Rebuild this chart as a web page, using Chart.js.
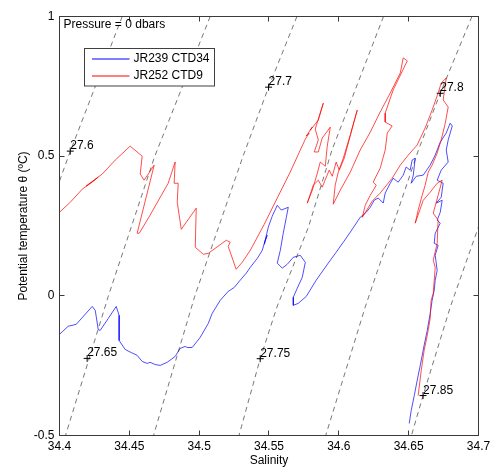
<!DOCTYPE html>
<html><head><meta charset="utf-8">
<script src="https://cdn.jsdelivr.net/npm/chart.js@4.4.1/dist/chart.umd.min.js"></script>
<style>html,body{margin:0;padding:0;background:#fff;}#c{display:block;}</style>
</head><body>
<canvas id="c" width="497" height="468"></canvas>
<script>
// ---- axis ticks ----
const xTicks = [34.4, 34.45, 34.5, 34.55, 34.6, 34.65, 34.7];
const xTickLabels = ['34.4', '34.45', '34.5', '34.55', '34.6', '34.65', '34.7'];
const yTicks = [-0.5, 0, 0.5, 1];
const yTickLabels = ['-0.5', '0', '0.5', '1'];

// ---- JR239 CTD34 (blue) ----
const blueS = [34.400,34.4062,34.4120,34.4234,34.4256,34.4277,34.4291,34.4349,34.4406,34.4427,
34.4427,34.4470,34.4513,34.4556,34.4592,34.4628,34.4649,34.4685,34.4721,34.4771,
34.4828,34.4864,34.4900,34.4914,34.4950,34.5007,34.5065,34.5093,34.5151,34.5208,
34.5251,34.5294,34.5337,34.5366,34.5416,34.5452,34.5473,34.5487,34.5466,34.5495,
34.5523,34.5559,34.5588,34.5638,34.5624,34.5602,34.5581,34.5559,34.5595,34.5631,
34.5674,34.5724,34.5760,34.5738,34.5702,34.5674,34.5674,34.5709,34.5767,34.5838,
34.5924,34.5981,34.6032,34.6082,34.6153,34.6196,34.6225,34.6253,34.6282,34.6318,
34.6332,34.6368,34.6389,34.6425,34.6461,34.6482,34.6511,34.6525,34.6547,34.6533,
34.6518,34.6554,34.6604,34.6654,34.6690,34.6726,34.6769,34.6797,34.6812,34.6783,
34.6769,34.6783,34.6733,34.6704,34.6747,34.6733,34.6697,34.6740,34.6726,34.6704,
34.6726,34.6690,34.6683,34.6711,34.6690,34.6704,34.6690,34.6683,34.6668,34.6654,
34.6633,34.6611,34.6583,34.6561,34.6540,34.6518,34.6504];
const blueT = [-0.138,-0.109,-0.102,-0.038,-0.052,-0.120,-0.124,-0.081,-0.038,-0.070,
-0.160,-0.192,-0.203,-0.213,-0.235,-0.242,-0.238,-0.246,-0.249,-0.238,
-0.217,-0.188,-0.181,-0.185,-0.185,-0.149,-0.099,-0.063,-0.016,0.016,
0.030,0.056,0.081,0.102,0.134,0.163,0.199,0.217,0.185,0.246,
0.285,0.324,0.307,0.317,0.281,0.224,0.163,0.117,0.099,0.113,
0.138,0.145,0.120,0.066,0.027,-0.005,-0.034,-0.027,-0.002,0.056,
0.117,0.156,0.192,0.228,0.281,0.299,0.317,0.342,0.350,0.332,
0.368,0.403,0.421,0.407,0.432,0.461,0.450,0.486,0.493,0.432,
0.403,0.428,0.432,0.468,0.504,0.550,0.583,0.618,0.608,0.558,
0.522,0.479,0.450,0.414,0.403,0.353,0.332,0.342,0.299,0.271,
0.260,0.224,0.188,0.181,0.145,0.091,0.056,0.020,-0.016,-0.063,
-0.124,-0.177,-0.249,-0.303,-0.357,-0.411,-0.457];

// ---- JR252 CTD9 (red) ----
const redS = [34.400,34.4077,34.4163,34.4234,34.4277,34.4191,34.4248,34.4306,34.4399,34.4506,
34.4592,34.4578,34.4606,34.4678,34.4556,34.4571,34.4649,34.4778,34.4828,34.4821,
34.4850,34.4843,34.4872,34.4979,34.4972,34.5029,34.5065,34.5194,34.5222,34.5208,
34.5265,34.5308,34.5366,34.5466,34.5559,34.5652,34.5724,34.5760,34.5788,34.5767,
34.5810,34.5795,34.5853,34.5889,34.5831,34.5853,34.5824,34.5853,34.5881,34.5939,
34.5917,34.5903,34.5867,34.5846,34.5810,34.5774,34.5817,34.5853,34.5881,34.5931,
34.5953,34.5981,34.6003,34.6039,34.6096,34.6132,34.6082,34.6032,34.5996,34.5974,
34.5960,34.6010,34.6082,34.6153,34.6225,34.6296,34.6368,34.6440,34.6461,34.6490,
34.6389,34.6332,34.6332,34.6382,34.6347,34.6332,34.6296,34.6246,34.6268,34.6225,
34.6189,34.6168,34.6239,34.6296,34.6382,34.6440,34.6497,34.6561,34.6618,34.6668,
34.6711,34.6733,34.6769,34.6747,34.6783,34.6762,34.6733,34.6704,34.6668,34.6640,
34.6618,34.6597,34.6568,34.6547,34.6604,34.6654,34.6704,34.6740,34.6711,34.6676,
34.6711,34.6704,34.6676,34.6690,34.6676,34.6661,34.6654,34.6633,34.6611,34.6590,
34.6568];
const redT = [0.299,0.335,0.382,0.407,0.425,0.393,0.414,0.436,0.486,0.536,
0.500,0.436,0.414,0.468,0.224,0.224,0.289,0.403,0.479,0.403,
0.403,0.335,0.238,0.314,0.174,0.149,0.152,0.199,0.192,0.177,
0.095,0.120,0.163,0.256,0.350,0.443,0.522,0.561,0.583,0.572,
0.604,0.593,0.629,0.690,0.597,0.558,0.515,0.515,0.565,0.604,
0.536,0.464,0.479,0.439,0.378,0.332,0.396,0.414,0.389,0.450,
0.428,0.479,0.450,0.493,0.601,0.665,0.575,0.493,0.443,0.396,
0.328,0.378,0.443,0.522,0.586,0.658,0.726,0.798,0.852,0.841,
0.737,0.654,0.622,0.608,0.583,0.522,0.457,0.407,0.396,0.360,
0.324,0.281,0.339,0.368,0.421,0.468,0.504,0.540,0.601,0.665,
0.726,0.762,0.780,0.701,0.676,0.618,0.558,0.511,0.468,0.443,
0.396,0.360,0.307,0.260,0.342,0.371,0.403,0.414,0.360,0.296,
0.271,0.188,0.127,0.102,0.009,-0.016,-0.081,-0.142,-0.195,-0.267,
-0.357];

// ---- isopycnals (sigma-0 contours) ----
const isoLevels = ['27.6', '27.65', '27.7', '27.75', '27.8', '27.85'];
const iso276S  = [34.4449, 34.4062, 34.3933];
const iso276T  = [1.0, 0.497, 0.317];
const iso2765S = [34.5079, 34.4680, 34.4349, 34.4043];
const iso2765T = [1.0, 0.497, -0.002, -0.5];
const iso277S  = [34.5700, 34.5497, 34.5312, 34.4968, 34.4673];
const iso277T  = [1.0, 0.747, 0.497, -0.002, -0.5];
const iso2775S = [34.6320, 34.5951, 34.5783, 34.5557, 34.5437, 34.5285];
const iso2775T = [1.0, 0.522, 0.247, -0.040, -0.225, -0.5];
const iso278S  = [34.6953, 34.6726, 34.6570, 34.6189, 34.5906];
const iso278T  = [1.0, 0.725, 0.522, -0.040, -0.5];
const iso2785S = [34.7064, 34.7000, 34.6798, 34.6603, 34.6520];
const iso2785T = [0.350, 0.247, -0.040, -0.357, -0.5];

// contour label anchor points
const labelS = [34.4077, 34.4198, 34.5497, 34.5437, 34.6726, 34.6603];
const labelT = [0.518, -0.224, 0.747, -0.225, 0.725, -0.357];

const FONT = "'Liberation Sans', Arial, Helvetica, sans-serif";
const AXIS_COLOR = '#3a3a3a';

function pts(S, T) { return S.map((s, i) => ({ x: s, y: T[i] })); }

const isoPairs = [[iso276S, iso276T], [iso2765S, iso2765T], [iso277S, iso277T],
                  [iso2775S, iso2775T], [iso278S, iso278T], [iso2785S, iso2785T]];

const isoDatasets = isoPairs.map((p, i) => ({
  label: 'sigma ' + isoLevels[i],
  data: pts(p[0], p[1]),
  showLine: true,
  borderColor: '#3c3c3c',
  borderWidth: 0.7,
  borderDash: [5, 4],
  pointRadius: 0,
  order: 3
}));

const overlay = {
  id: 'overlay',
  afterDraw(chart) {
    const ctx = chart.ctx;
    const { left, right, top, bottom } = chart.chartArea;
    const xs = chart.scales.x, ys = chart.scales.y;
    ctx.save();
    // contour labels
    ctx.fillStyle = '#000';
    ctx.font = '12px ' + FONT;
    ctx.textAlign = 'left';
    ctx.textBaseline = 'alphabetic';
    labelS.forEach((s, i) => {
      const px = xs.getPixelForValue(s), py = ys.getPixelForValue(labelT[i]);
      ctx.fillText(isoLevels[i], px, py - 2);
    });
    // box
    ctx.strokeStyle = AXIS_COLOR;
    ctx.lineWidth = 1;
    ctx.strokeRect(left, top, right - left, bottom - top);
    // inward ticks
    const tl = 5;
    ctx.beginPath();
    xTicks.forEach(v => {
      const p = Math.round(xs.getPixelForValue(v) - 0.5) + 0.5;
      ctx.moveTo(p, bottom); ctx.lineTo(p, bottom - tl);
      ctx.moveTo(p, top); ctx.lineTo(p, top + tl);
    });
    yTicks.forEach(v => {
      const p = Math.round(ys.getPixelForValue(v) - 0.5) + 0.5;
      ctx.moveTo(left, p); ctx.lineTo(left + tl, p);
      ctx.moveTo(right, p); ctx.lineTo(right - tl, p);
    });
    ctx.stroke();
    // pressure annotation
    ctx.fillStyle = '#000';
    ctx.font = '12px ' + FONT;
    ctx.textBaseline = 'middle';
    ctx.fillText('Pressure = 0 dbars', left + 4, top + 8);
    // legend
    const lx = left + 25, ly = top + 32, lw = 130, lh = 37.5;
    ctx.fillStyle = '#fff';
    ctx.fillRect(lx, ly, lw, lh);
    ctx.strokeStyle = '#404040';
    ctx.strokeRect(lx, ly, lw, lh);
    const entries = [chart.data.datasets[1], chart.data.datasets[0]];
    entries.forEach((d, i) => {
      const yy = ly + 10.5 + i * 17;
      ctx.strokeStyle = d.borderColor;
      ctx.lineWidth = 1;
      ctx.beginPath();
      ctx.moveTo(lx + 7.5, yy); ctx.lineTo(lx + 45, yy);
      ctx.stroke();
      ctx.fillStyle = '#000';
      ctx.textBaseline = 'middle';
      ctx.fillText(d.label, lx + 49, yy);
    });
    ctx.restore();
  }
};

new Chart(document.getElementById('c'), {
  type: 'scatter',
  data: {
    datasets: [
      { label: 'JR252 CTD9', data: pts(redS, redT), showLine: true, borderColor: '#ff0000',
        borderWidth: 0.7, pointRadius: 0, order: 0 },
      { label: 'JR239 CTD34', data: pts(blueS, blueT), showLine: true, borderColor: '#0000ff',
        borderWidth: 0.7, pointRadius: 0, order: 1 },
      ...isoDatasets,
      { label: 'labels', data: pts(labelS, labelT), showLine: false, pointStyle: 'cross',
        pointRadius: 3.5, borderColor: '#000', borderWidth: 1, order: 2 }
    ]
  },
  options: {
    responsive: false,
    animation: false,
    devicePixelRatio: 1,
    layout: { padding: { left: 0, right: 18.5, top: 16.5, bottom: 0 } },
    plugins: { legend: { display: false }, tooltip: { enabled: false } },
    scales: {
      x: {
        type: 'linear', min: 34.4, max: 34.7,
        afterBuildTicks: s => { s.ticks = xTicks.map(v => ({ value: v })); },
        afterFit: s => { s.height = 32.5; },
        grid: { display: false, drawTicks: false },
        border: { display: false },
        ticks: { padding: 4, color: '#000', font: { family: FONT, size: 12 },
                 callback: (v, i) => xTickLabels[i], maxRotation: 0, autoSkip: false },
        title: { display: true, text: 'Salinity', color: '#000',
                 font: { family: FONT, size: 12 }, padding: { top: 0, bottom: 0 } }
      },
      y: {
        type: 'linear', min: -0.5, max: 1,
        afterBuildTicks: s => { s.ticks = yTicks.map(v => ({ value: v })); },
        afterFit: s => { s.width = 59.5; },
        grid: { display: false, drawTicks: false },
        border: { display: false },
        ticks: { padding: 5, color: '#000', font: { family: FONT, size: 12 },
                 callback: (v, i) => yTickLabels[i], autoSkip: false },
        title: { display: true, text: 'Potential temperature θ (ºC)', color: '#000',
                 font: { family: FONT, size: 12 }, padding: { top: 16, bottom: 0 } }
      }
    }
  },
  plugins: [overlay]
});
</script>
</body></html>
